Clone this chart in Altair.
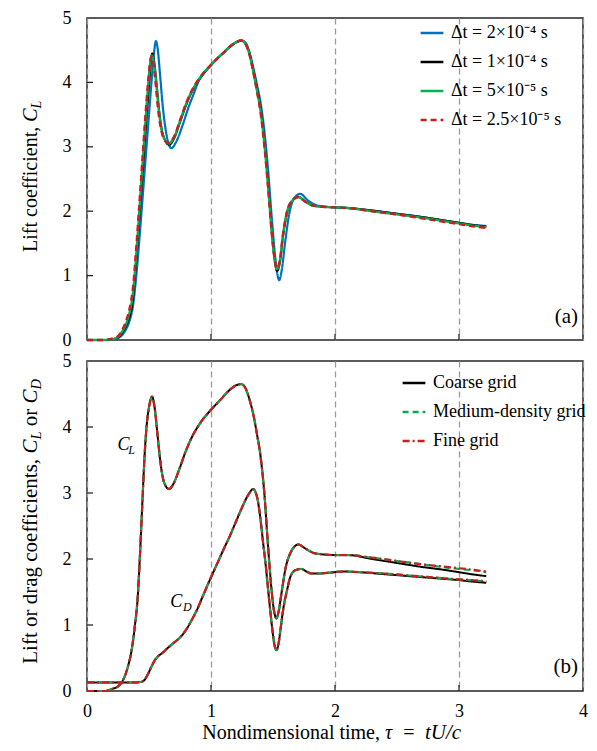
import altair as alt
import pandas as pd

FONT = "Liberation Serif"

# ---------------- Panel (a): lift coefficient, four time steps ----------------
tau_a_2e4 = [0, 0.15, 0.20, 0.25, 0.28, 0.31, 0.34, 0.37, 0.40, 0.43, 0.46, 0.49, 0.52, 0.54, 0.556,
             0.57, 0.59, 0.61, 0.64, 0.68, 0.72, 0.77, 0.82, 0.86, 0.90, 0.95, 1.00, 1.05, 1.10, 1.15,
             1.20, 1.245, 1.28, 1.31, 1.34, 1.37, 1.40, 1.43, 1.46, 1.49, 1.52, 1.55, 1.57, 1.60, 1.63,
             1.67, 1.72, 1.78, 1.84, 1.92, 2.00, 2.10, 2.30, 2.50, 2.70, 2.90, 3.00, 3.10, 3.22]
cl_a_2e4 = [0, 0, 0.01, 0.03, 0.07, 0.15, 0.28, 0.52, 1.05, 1.75, 2.50, 3.25, 4.00, 4.45, 4.64,
            4.52, 4.10, 3.65, 3.20, 2.98, 3.08, 3.33, 3.62, 3.82, 4.02, 4.16, 4.27, 4.37, 4.46, 4.55,
            4.62, 4.65, 4.61, 4.47, 4.24, 3.97, 3.68, 3.25, 2.65, 1.90, 1.25, 0.93, 1.08, 1.55, 1.95,
            2.20, 2.27, 2.17, 2.10, 2.07, 2.06, 2.05, 2.01, 1.96, 1.91, 1.85, 1.82, 1.79, 1.77]

tau_a_1e4 = [0, 0.15, 0.20, 0.25, 0.28, 0.31, 0.34, 0.37, 0.40, 0.424, 0.45, 0.475, 0.50, 0.515, 0.525,
             0.54, 0.56, 0.58, 0.60, 0.63, 0.662, 0.70, 0.75, 0.80, 0.85, 0.90, 0.95, 1.00, 1.05, 1.10,
             1.15, 1.20, 1.245, 1.28, 1.31, 1.34, 1.37, 1.40, 1.43, 1.46, 1.49, 1.51, 1.533, 1.555, 1.58,
             1.61, 1.65, 1.705, 1.76, 1.82, 1.90, 2.00, 2.10, 2.30, 2.50, 2.70, 2.90, 3.00, 3.10, 3.22]
cl_a_1e4 = [0, 0, 0.01, 0.04, 0.10, 0.20, 0.34, 0.62, 1.30, 1.93, 2.62, 3.30, 3.95, 4.30, 4.45,
            4.35, 4.00, 3.60, 3.30, 3.10, 3.03, 3.12, 3.38, 3.65, 3.87, 4.03, 4.16, 4.27, 4.37, 4.46,
            4.55, 4.62, 4.65, 4.60, 4.45, 4.20, 3.92, 3.60, 3.10, 2.45, 1.70, 1.30, 1.07, 1.20, 1.60,
            1.95, 2.15, 2.22, 2.15, 2.09, 2.07, 2.06, 2.05, 2.01, 1.96, 1.91, 1.85, 1.82, 1.79, 1.76]

tau_a_5e5 = [0, 0.15, 0.20, 0.25, 0.28, 0.31, 0.34, 0.37, 0.40, 0.42, 0.445, 0.47, 0.495, 0.51, 0.522,
             0.54, 0.56, 0.58, 0.60, 0.63, 0.657, 0.70, 0.75, 0.80, 0.85, 0.90, 0.95, 1.00, 1.05, 1.10,
             1.15, 1.20, 1.245, 1.28, 1.31, 1.34, 1.37, 1.40, 1.43, 1.46, 1.49, 1.51, 1.53, 1.555, 1.58,
             1.61, 1.65, 1.705, 1.76, 1.82, 1.90, 2.00, 2.10, 2.30, 2.50, 2.70, 2.90, 3.00, 3.10, 3.22]
cl_a_5e5 = [0, 0, 0.01, 0.05, 0.12, 0.23, 0.40, 0.72, 1.40, 1.95, 2.65, 3.35, 4.00, 4.30, 4.42,
            4.30, 3.95, 3.55, 3.28, 3.10, 3.05, 3.14, 3.40, 3.67, 3.88, 4.04, 4.17, 4.27, 4.37, 4.46,
            4.55, 4.62, 4.65, 4.59, 4.44, 4.18, 3.88, 3.55, 3.05, 2.40, 1.68, 1.30, 1.10, 1.22, 1.62,
            1.96, 2.15, 2.22, 2.15, 2.09, 2.07, 2.06, 2.05, 2.00, 1.95, 1.90, 1.84, 1.81, 1.78, 1.75]

tau_a_25e5 = [0, 0.15, 0.20, 0.25, 0.28, 0.31, 0.34, 0.37, 0.40, 0.42, 0.445, 0.47, 0.495, 0.508, 0.518,
              0.535, 0.555, 0.575, 0.60, 0.63, 0.655, 0.70, 0.75, 0.80, 0.85, 0.90, 0.95, 1.00, 1.05, 1.10,
              1.15, 1.20, 1.245, 1.28, 1.31, 1.34, 1.37, 1.40, 1.43, 1.46, 1.49, 1.51, 1.53, 1.555, 1.58,
              1.61, 1.65, 1.705, 1.76, 1.82, 1.90, 2.00, 2.10, 2.30, 2.50, 2.70, 2.90, 3.00, 3.10, 3.22]
cl_a_25e5 = [0, 0, 0.02, 0.06, 0.14, 0.27, 0.46, 0.80, 1.50, 2.05, 2.75, 3.45, 4.05, 4.30, 4.40,
             4.30, 3.95, 3.55, 3.25, 3.09, 3.06, 3.15, 3.41, 3.68, 3.89, 4.05, 4.17, 4.27, 4.37, 4.46,
             4.55, 4.62, 4.65, 4.59, 4.43, 4.17, 3.87, 3.53, 3.02, 2.38, 1.66, 1.30, 1.11, 1.23, 1.63,
             1.97, 2.16, 2.22, 2.15, 2.09, 2.07, 2.06, 2.05, 2.00, 1.95, 1.89, 1.83, 1.80, 1.77, 1.74]

labels_a = ["Δt  = 2×10⁻⁴ s", "Δt  = 1×10⁻⁴ s", "Δt  = 5×10⁻⁵ s", "Δt  = 2.5×10⁻⁵ s"]
colors_a = ["#0070C0", "#000000", "#00B050", "#C81E1E"]
dashes_a = [[1, 0], [1, 0], [1, 0], [6, 4]]
widths_a = [2.2, 2.0, 2.4, 2.4]

# ---------------- Panel (b): grid study, lift and drag ----------------
tau_cl_b = [0, 0.15, 0.20, 0.25, 0.28, 0.31, 0.33, 0.36, 0.385, 0.41, 0.425, 0.438, 0.45, 0.464, 0.48,
            0.50, 0.525, 0.545, 0.565, 0.59, 0.62, 0.662, 0.70, 0.742, 0.80, 0.834, 0.913, 1.00, 1.07,
            1.15, 1.20, 1.243, 1.28, 1.31, 1.34, 1.37, 1.40, 1.43, 1.46, 1.49, 1.515, 1.528, 1.545,
            1.57, 1.60, 1.64, 1.705, 1.76, 1.83, 1.90, 2.00, 2.10,
            2.30, 2.50, 2.70, 2.90, 3.00, 3.10, 3.22]
cl_b_coarse = [0, 0, 0.03, 0.07, 0.13, 0.25, 0.37, 0.62, 0.97, 1.45, 1.98, 2.50, 3.00, 3.55, 4.00,
               4.30, 4.46, 4.30, 3.95, 3.50, 3.17, 3.06, 3.15, 3.35, 3.65, 3.80, 4.06, 4.26, 4.40,
               4.56, 4.63, 4.65, 4.58, 4.42, 4.20, 3.90, 3.55, 3.00, 2.20, 1.50, 1.15, 1.10, 1.20,
               1.50, 1.85, 2.09, 2.22, 2.16, 2.09, 2.07, 2.06, 2.06,
               2.00, 1.94, 1.88, 1.83, 1.80, 1.77, 1.74]
cl_b_medium = [0, 0, 0.03, 0.07, 0.13, 0.25, 0.37, 0.62, 0.97, 1.45, 1.98, 2.50, 3.00, 3.55, 4.00,
               4.30, 4.46, 4.30, 3.95, 3.50, 3.17, 3.06, 3.15, 3.35, 3.65, 3.80, 4.06, 4.26, 4.40,
               4.56, 4.63, 4.65, 4.58, 4.42, 4.20, 3.90, 3.55, 3.00, 2.20, 1.50, 1.15, 1.10, 1.20,
               1.50, 1.85, 2.09, 2.22, 2.16, 2.09, 2.07, 2.06, 2.06,
               2.02, 1.97, 1.92, 1.87, 1.85, 1.83, 1.80]
cl_b_fine = [0, 0, 0.03, 0.07, 0.13, 0.25, 0.37, 0.62, 0.97, 1.45, 1.98, 2.50, 3.00, 3.55, 4.00,
             4.30, 4.46, 4.30, 3.95, 3.50, 3.17, 3.06, 3.15, 3.35, 3.65, 3.80, 4.06, 4.26, 4.40,
             4.56, 4.63, 4.65, 4.58, 4.42, 4.20, 3.90, 3.55, 3.00, 2.20, 1.50, 1.15, 1.10, 1.20,
             1.50, 1.85, 2.09, 2.22, 2.16, 2.09, 2.07, 2.06, 2.06,
             2.02, 1.97, 1.92, 1.88, 1.86, 1.84, 1.81]

tau_cd_b = [0, 0.30, 0.40, 0.44, 0.465, 0.49, 0.52, 0.545, 0.57, 0.61, 0.65, 0.70, 0.755, 0.81, 0.86,
            0.887, 0.93, 0.99, 1.05, 1.10, 1.15, 1.20, 1.25, 1.30, 1.34, 1.37, 1.40, 1.42, 1.44, 1.46,
            1.48, 1.50, 1.515, 1.528, 1.545, 1.565, 1.586, 1.61, 1.64, 1.68, 1.726, 1.77, 1.81, 1.87,
            1.94, 2.07, 2.20, 2.40, 2.60, 2.80, 3.00, 3.10, 3.22]
cd_b_coarse = [0.13, 0.13, 0.13, 0.14, 0.17, 0.25, 0.37, 0.46, 0.52, 0.58, 0.65, 0.73, 0.82, 0.96, 1.13,
               1.23, 1.42, 1.68, 1.93, 2.14, 2.34, 2.56, 2.78, 2.97, 3.06, 2.95, 2.59, 2.25, 1.93, 1.55,
               1.18, 0.85, 0.67, 0.62, 0.72, 1.00, 1.28, 1.50, 1.73, 1.83, 1.85, 1.81, 1.78, 1.78,
               1.79, 1.81, 1.80, 1.77, 1.74, 1.71, 1.68, 1.66, 1.64]
cd_b_medium = [0.13, 0.13, 0.13, 0.14, 0.17, 0.25, 0.37, 0.46, 0.52, 0.58, 0.65, 0.73, 0.82, 0.96, 1.13,
               1.23, 1.42, 1.68, 1.93, 2.14, 2.34, 2.56, 2.78, 2.97, 3.06, 2.95, 2.59, 2.25, 1.93, 1.55,
               1.18, 0.85, 0.67, 0.62, 0.72, 1.00, 1.28, 1.50, 1.73, 1.83, 1.85, 1.81, 1.78, 1.78,
               1.79, 1.81, 1.80, 1.78, 1.75, 1.72, 1.69, 1.68, 1.66]
cd_b_fine = [0.13, 0.13, 0.13, 0.14, 0.17, 0.25, 0.37, 0.46, 0.52, 0.58, 0.65, 0.73, 0.82, 0.96, 1.13,
             1.23, 1.42, 1.68, 1.93, 2.14, 2.34, 2.56, 2.78, 2.97, 3.06, 2.95, 2.59, 2.25, 1.93, 1.55,
             1.18, 0.85, 0.67, 0.62, 0.72, 1.00, 1.28, 1.50, 1.73, 1.83, 1.85, 1.81, 1.78, 1.78,
             1.79, 1.81, 1.80, 1.78, 1.75, 1.72, 1.69, 1.68, 1.66]

labels_b = ["Coarse grid", "Medium-density grid", "Fine grid"]
colors_b = ["#000000", "#00B050", "#C81E1E"]
dashes_b = [[1, 0], [6, 4], [7, 3, 2, 3]]
widths_b = [2.0, 2.2, 2.2]

x_ticks = [0, 1, 2, 3, 4]
y_ticks = [0, 1, 2, 3, 4, 5]
inner_x_ticks = [1, 2, 3]
inner_y_ticks = [1, 2, 3, 4]

W, HA, HB = 496, 322, 330

sx = alt.Scale(domain=[0, 4], nice=False, zero=False)
sy = alt.Scale(domain=[0, 5], nice=False, zero=False)


def x_axis(labels):
    return alt.Axis(values=x_ticks, format="d", grid=True, gridDash=[6, 4], gridColor="#9a9a9a",
                    gridWidth=1.3, ticks=False, domain=False, labels=labels, title=None, labelFont=FONT,
                    labelFontSize=18, labelColor="#000", labelPadding=11, labelFlush=False)


y_axis = alt.Axis(values=y_ticks, format="d", grid=False, ticks=False, domain=False, title=None,
                  labelFont=FONT, labelFontSize=18, labelColor="#000", labelPadding=16, labelFlush=False)


def legend(x, y):
    return alt.Legend(orient="none", legendX=x, legendY=y, title=None, labelFont=FONT, labelFontSize=18,
                      labelColor="#000", symbolType="stroke", symbolSize=520, symbolStrokeWidth=2.4,
                      rowPadding=7, labelOffset=6, padding=0)


def lines(taus, vals, label, labels, colors, dashes, width, xlab, leg):
    df = pd.DataFrame({"tau": taus, "v": vals, "series": label})
    return alt.Chart(df).mark_line(strokeWidth=width, interpolate="monotone").encode(
        x=alt.X("tau:Q", scale=sx, axis=x_axis(xlab)),
        y=alt.Y("v:Q", scale=sy, axis=y_axis),
        color=alt.Color("series:N", scale=alt.Scale(domain=labels, range=colors), legend=leg),
        strokeDash=alt.StrokeDash("series:N", scale=alt.Scale(domain=labels, range=dashes), legend=leg),
    )


def tick_layers(H, xlab):
    tx = alt.Chart(pd.DataFrame({"tau": inner_x_ticks})).mark_rule(color="#262626", strokeWidth=1.3).encode(
        x=alt.X("tau:Q", scale=sx, axis=x_axis(xlab)), y=alt.value(H), y2=alt.value(H - 6))
    ty = alt.Chart(pd.DataFrame({"v": inner_y_ticks})).mark_rule(color="#262626", strokeWidth=1.3).encode(
        y=alt.Y("v:Q", scale=sy, axis=y_axis), x=alt.value(0), x2=alt.value(6))
    return [tx, ty]


one = pd.DataFrame({"k": [0]})


def label_text(txt, x, y, size, italic=False, angle=0, align="left"):
    return alt.Chart(one).mark_text(text=txt, font=FONT, fontSize=size, fontStyle="italic" if italic else "normal",
                                    angle=angle, align=align, baseline="alphabetic", color="#000").encode(
        x=alt.value(x), y=alt.value(y))


def data_text(txt, tau, v, size, xlab, italic=False, align="left"):
    df = pd.DataFrame({"tau": [tau], "v": [v]})
    return alt.Chart(df).mark_text(text=txt, font=FONT, fontSize=size, fontStyle="italic" if italic else "normal",
                                   align=align, baseline="alphabetic", color="#000").encode(
        x=alt.X("tau:Q", scale=sx, axis=x_axis(xlab)), y=alt.Y("v:Q", scale=sy, axis=y_axis))


# ----- panel a -----
leg_a = legend(332, 2)
layers_a = tick_layers(HA, False)
series_a = [(tau_a_2e4, cl_a_2e4), (tau_a_1e4, cl_a_1e4), (tau_a_5e5, cl_a_5e5), (tau_a_25e5, cl_a_25e5)]
for i, (t, v) in enumerate(series_a):
    layers_a.append(lines(t, v, labels_a[i], labels_a, colors_a, dashes_a, widths_a[i], False, leg_a))
layers_a += [
    data_text("(a)", 3.96, 0.27, 21, False, align="right"),
    label_text("Lift coefficient,", -50, 108.8, 20, angle=270, align="right"),
    label_text("C", -50, 103.8, 20, italic=True, angle=270),
    label_text("L", -46, 90.5, 14, italic=True, angle=270),
]
panel_a = alt.layer(*layers_a).properties(width=W, height=HA)

# ----- panel b -----
leg_b = legend(314, 9)
layers_b = tick_layers(HB, True)
series_b = [
    (tau_cl_b, cl_b_coarse, 0), (tau_cd_b, cd_b_coarse, 0),
    (tau_cl_b, cl_b_medium, 1), (tau_cd_b, cd_b_medium, 1),
    (tau_cl_b, cl_b_fine, 2), (tau_cd_b, cd_b_fine, 2),
]
for t, v, i in series_b:
    layers_b.append(lines(t, v, labels_b[i], labels_b, colors_b, dashes_b, widths_b[i], True, leg_b))
layers_b += [
    data_text("(b)", 3.96, 0.27, 21, True, align="right"),
    data_text("C", 0.245, 3.65, 18, True, italic=True),
    data_text("L", 0.332, 3.59, 12, True, italic=True),
    data_text("C", 0.672, 1.27, 18, True, italic=True),
    data_text("D", 0.775, 1.21, 12, True, italic=True),
    label_text("Lift or drag coefficients,", -50, 97.9, 21, angle=270, align="right"),
    label_text("C", -50, 92.6, 21, italic=True, angle=270),
    label_text("L", -46, 78.6, 14.5, italic=True, angle=270),
    label_text("or", -50, 65.2, 21, angle=270),
    label_text("C", -50, 42.4, 21, italic=True, angle=270),
    label_text("D", -46, 28.4, 14.5, italic=True, angle=270),
    label_text("Nondimensional time,", 293, 378, 20, align="right"),
    label_text("τ", 298, 378, 20, italic=True),
    label_text("=", 322, 378, 20, align="center"),
    label_text("tU/c", 338, 378, 21, italic=True),
]
panel_b = alt.layer(*layers_b).properties(width=W, height=HB)

chart = alt.vconcat(panel_a, panel_b, spacing=1).resolve_legend(color="independent", strokeDash="independent") \
    .resolve_scale(color="independent", strokeDash="independent") \
    .properties(padding={"left": 11, "top": 0, "right": 0, "bottom": 0}) \
    .configure(font=FONT) \
    .configure_axis(labelFont=FONT, labelFontSize=18, labelColor="#000") \
    .configure_legend(labelFont=FONT, labelFontSize=18, labelColor="#000") \
    .configure_view(stroke="#262626", strokeWidth=1.5)

chart.save("out.html", embed_options={"renderer": "svg", "actions": False})
